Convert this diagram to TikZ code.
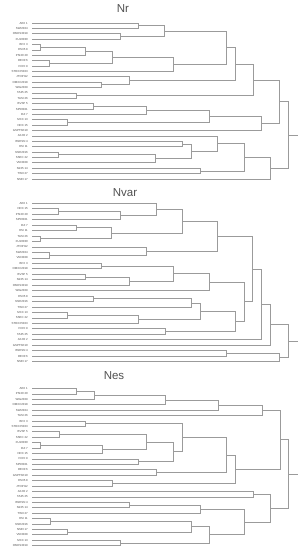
\documentclass[tikz,border=0pt]{standalone}
\usepackage{fontspec}
\setsansfont{Liberation Sans}
\definecolor{dline}{RGB}{155,155,155}
\definecolor{dtext}{RGB}{80,80,80}
\tikzset{
  dl/.style={draw=dline, line width=0.8pt},
  lab/.style={anchor=east, inner sep=0pt, font=\sffamily\fontsize{2.9}{3.4}\selectfont, text=dtext},
  ttl/.style={inner sep=0pt, font=\sffamily\fontsize{11.5}{14}\selectfont, text=dtext},
}
\newcommand{\mrg}[4]{% name, child1, child2, x
  \coordinate (#1x) at (#4,0);
  \draw[dl] (#2) -- (#2 -| #1x) -- (#3 -| #1x) -- (#3);
  \path (#2 -| #1x) -- (#3 -| #1x) coordinate[pos=0.5] (#1);
}
\newcommand{\leaves}[4]{% prefix, first y, spacing, list
  \foreach \t [count=\i] in {#4} {
    \pgfmathsetmacro{\yy}{#2+(\i-1)*#3}
    \node[lab] (#1t\i) at (28,\yy) {\t};
    \coordinate (#1l\i) at (32,\yy);
  }
}
\begin{document}
\begin{tikzpicture}[x=1pt,y=-1pt]
\useasboundingbox (0,0) rectangle (301,550);
\coordinate (rootx) at (297.7,0);

% ---------------- Nr ----------------
\node[ttl] (tNr) at (123,9) {Nr};
\leaves{A}{23}{5.38}{AEX 1, SWI2024, OMXS3019, XU10030, BFX 3, ES35 8, PSI20 20, DE30 6, FCHI 9, STOXX5023, JTOPI12, OMXC2018, WIG2029, TA35 25, TASI 26, BVSP 5, SP50021, DJI 7, MXX 13, NDX 15, GSPTSE10, AXJO 2, BSESN 4, HSI 11, NSE2016, SSEC 22, VNI3028, N225 14, TWII 27, NSEI 17}
\mrg{a1}{Al1}{Al2}{138}
\mrg{a2}{Al3}{Al4}{120}
\mrg{a3}{a1}{a2}{164.3}
\mrg{a4}{Al5}{Al6}{40.7}
\mrg{a5}{a4}{Al7}{85}
\mrg{a6}{Al8}{Al9}{49.3}
\mrg{a7}{a5}{a6}{112.3}
\mrg{a8}{a7}{Al10}{173.3}
\mrg{a9}{a3}{a8}{226.7}
\mrg{a10}{Al12}{Al13}{101.7}
\mrg{a11}{Al11}{a10}{129}
\mrg{a12}{a9}{a11}{235.3}
\mrg{a13}{Al14}{Al15}{76.7}
\mrg{a14}{a12}{a13}{253.3}
\mrg{a15}{Al16}{Al17}{93.3}
\mrg{a16}{a15}{Al18}{146.7}
\mrg{a17}{Al19}{Al20}{67.7}
\mrg{a18}{a16}{a17}{209.3}
\mrg{a19}{a18}{Al21}{261.7}
\mrg{a20}{a14}{a19}{279.3}
\mrg{a21}{Al23}{Al24}{182.3}
\mrg{a22}{Al25}{Al26}{58.3}
\mrg{a23}{a22}{Al27}{155.7}
\mrg{a24}{a21}{a23}{191}
\mrg{a25}{Al22}{a24}{217.7}
\mrg{a26}{Al28}{Al29}{200}
\mrg{a27}{a25}{a26}{244.3}
\mrg{a28}{a27}{Al30}{270.7}
\mrg{a29}{a20}{a28}{288.3}
\draw[dl] (a29) -- (a29 -| rootx);

% ---------------- Nvar ----------------
\node[ttl] (tNvar) at (125,193) {Nvar};
\leaves{B}{203.3}{5.46}{AEX 1, NDX 15, PSI20 20, SP50021, DJI 7, HSI 11, TASI 26, XU10030, JTOPI12, SWI2024, VNI3028, BFX 3, OMXC2018, BVSP 5, N225 14, OMXS3019, WIG2029, ES35 8, NSE2016, TWII 27, MXX 13, SSEC 22, STOXX5023, FCHI 9, TA35 25, AXJO 2, GSPTSE10, BSESN 4, DE30 6, NSEI 17}
\mrg{b1}{Bl2}{Bl3}{58.3}
\mrg{b2}{b1}{Bl4}{120}
\mrg{b3}{Bl1}{b2}{156}
\mrg{b4}{Bl5}{Bl6}{76.7}
\mrg{b5}{Bl7}{Bl8}{40.7}
\mrg{b6}{b4}{b5}{111.7}
\mrg{b7}{b3}{b6}{182.3}
\mrg{b8}{Bl10}{Bl11}{49.3}
\mrg{b9}{Bl9}{b8}{146.7}
\mrg{b10}{b7}{b9}{217.7}
\mrg{b11}{Bl12}{Bl13}{101.7}
\mrg{b12}{Bl14}{Bl15}{85}
\mrg{b13}{b12}{Bl16}{129.3}
\mrg{b14}{b11}{b13}{173.3}
\mrg{b15}{b14}{Bl17}{209}
\mrg{b16}{Bl18}{Bl19}{93.3}
\mrg{b17}{b16}{Bl20}{191}
\mrg{b18}{Bl21}{Bl22}{67.7}
\mrg{b19}{b18}{Bl23}{138.3}
\mrg{b20}{b17}{b19}{200}
\mrg{b21}{Bl24}{Bl25}{165}
\mrg{b22}{b20}{b21}{235.7}
\mrg{b23}{b15}{b22}{244.3}
\mrg{b24}{b10}{b23}{252.7}
\mrg{b25}{b24}{Bl26}{261.7}
\mrg{b26}{b25}{Bl27}{270.3}
\mrg{b27}{Bl28}{Bl29}{226.7}
\mrg{b28}{b27}{Bl30}{279.3}
\mrg{b29}{b26}{b28}{288.3}
\draw[dl] (b29) -- (b29 -| rootx);

% ---------------- Nes ----------------
\node[ttl] (tNes) at (114,376) {Nes};
\leaves{C}{388.5}{5.42}{AEX 1, PSI20 20, WIG2029, OMXC2018, SWI2024, TASI 26, BFX 3, STOXX5023, BVSP 5, SSEC 22, XU10030, DJI 7, NDX 15, FCHI 9, SP50021, DE30 6, GSPTSE10, ES35 8, JTOPI12, AXJO 2, TA35 25, BSESN 4, N225 14, TWII 27, HSI 11, NSE2016, NSEI 17, VNI3028, MXX 13, OMXS3019}
\mrg{c1}{Cl1}{Cl2}{76.7}
\mrg{c2}{c1}{Cl3}{94.3}
\mrg{c3}{c2}{Cl4}{165}
\mrg{c4}{c3}{Cl5}{218.3}
\mrg{c5}{c4}{Cl6}{262.3}
\mrg{c6}{Cl7}{Cl8}{85.7}
\mrg{c7}{Cl9}{Cl10}{59}
\mrg{c8}{Cl11}{Cl12}{40.7}
\mrg{c9}{c8}{Cl13}{102.7}
\mrg{c10}{c7}{c9}{146.7}
\mrg{c11}{Cl14}{Cl15}{138.3}
\mrg{c12}{c10}{c11}{173.3}
\mrg{c13}{c6}{c12}{182.3}
\mrg{c14}{Cl16}{Cl17}{156}
\mrg{c15}{c13}{c14}{226.7}
\mrg{c16}{Cl18}{Cl19}{112.3}
\mrg{c17}{c15}{c16}{235.7}
\mrg{c18}{c5}{c17}{280}
\mrg{c19}{Cl20}{Cl21}{253.3}
\mrg{c20}{Cl22}{Cl23}{129.3}
\mrg{c21}{c20}{Cl24}{200}
\mrg{c22}{Cl25}{Cl26}{50}
\mrg{c23}{Cl27}{Cl28}{67.7}
\mrg{c24}{c22}{c23}{191.7}
\mrg{c25}{Cl29}{Cl30}{120.7}
\mrg{c26}{c24}{c25}{209.3}
\mrg{c27}{c21}{c26}{244.3}
\mrg{c28}{c19}{c27}{270.3}
\mrg{c29}{c18}{c28}{288.3}
\draw[dl] (c29) -- (c29 -| rootx);
\end{tikzpicture}
\end{document}
